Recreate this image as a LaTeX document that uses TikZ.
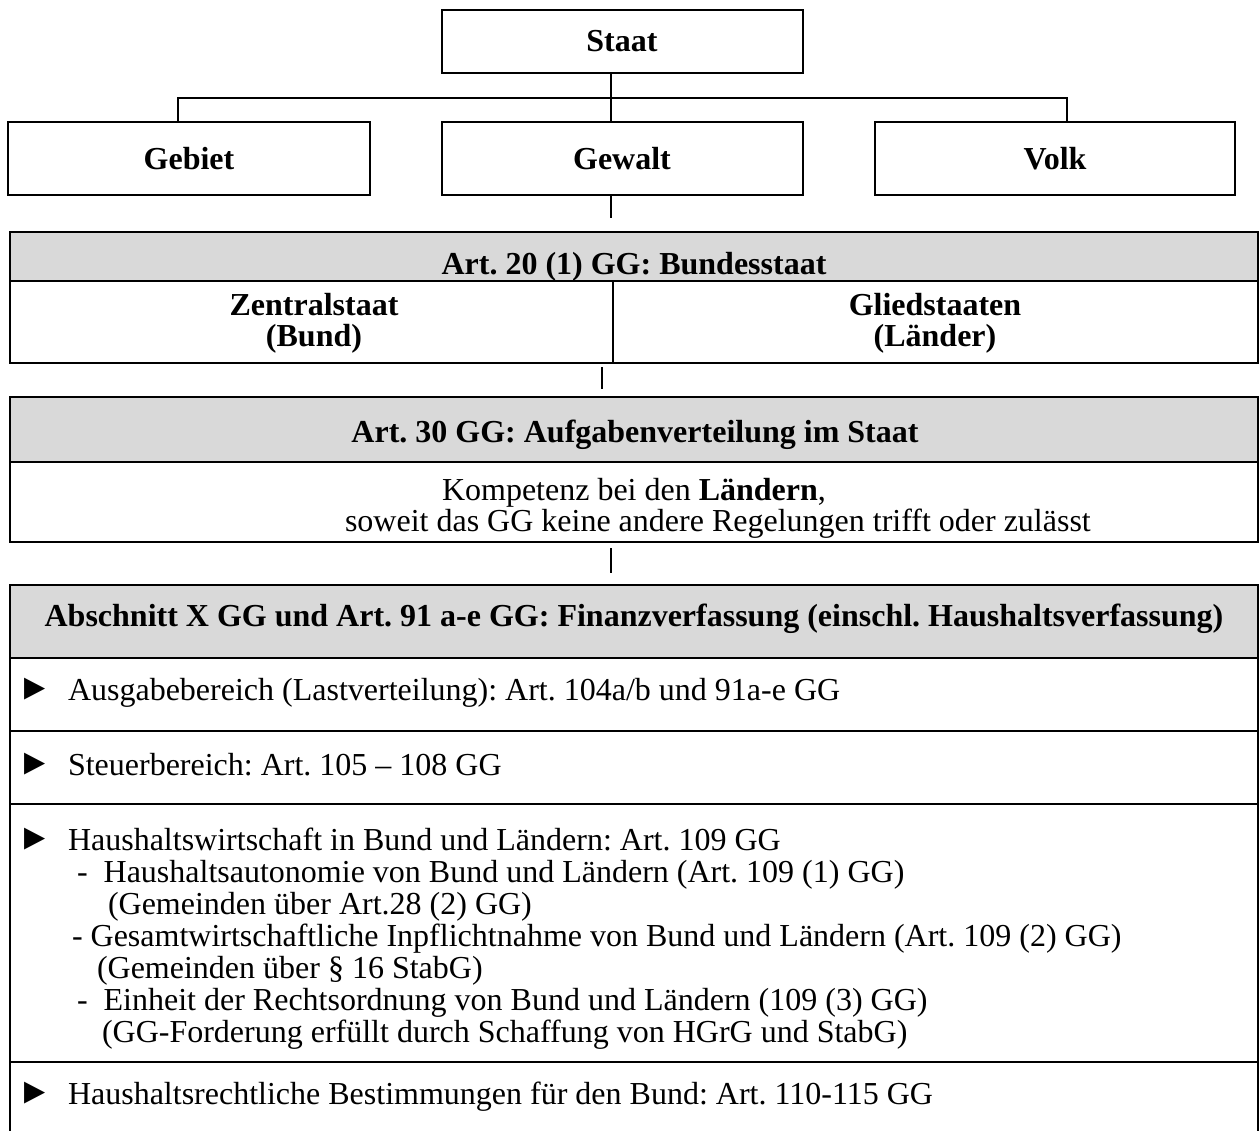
\documentclass[tikz,border=0pt]{standalone}
\usepackage{fontspec}
\usepackage{graphicx}
\setmainfont{Liberation Serif}
\newfontfamily\symfont{DejaVu Sans}
\definecolor{hdr}{HTML}{D9D9D9}
\frenchspacing
\tikzset{
  every node/.style={inner sep=0pt, outer sep=0pt},
  topbox/.style={draw, line width=2pt, font=\fontsize{32}{32}\selectfont\bfseries},
  framebox/.style={draw, line width=2.5pt, anchor=north west, minimum width=1248pt},
  headbox/.style={framebox, fill=hdr},
  conn/.style={line width=1.2pt},
  txt/.style={font=\fontsize{32}{32}\selectfont, anchor=base west},
  btxt/.style={font=\fontsize{32}{32}\selectfont\bfseries, anchor=base},
  bullet/.style={font=\symfont\fontsize{22}{22}\selectfont, anchor=base west},
}
\newcommand{\tri}{\scalebox{1.25}[2.0]{►}}
\begin{document}
\begin{tikzpicture}[x=1pt,y=-1pt]
\useasboundingbox (0,0) rectangle (1260,1131);
\clip (0,0) rectangle (1260,1131);

% top tree
\node[topbox, minimum width=361pt, minimum height=63pt] (staat) at (622,41.5) {Staat};
\node[topbox, minimum width=362pt, minimum height=73pt] (gebiet) at (189,158.5) {Gebiet};
\node[topbox, minimum width=361pt, minimum height=73pt] (gewalt) at (622,158.5) {Gewalt};
\node[topbox, minimum width=360pt, minimum height=73pt] (volk) at (1055,158.5) {Volk};

\coordinate (jc) at (611,98);
\coordinate (jl) at (178,98);
\coordinate (jr) at (1067,98);
\draw[conn] (jc |- staat.south) -- (jc |- gewalt.north);
\draw[conn] (jl |- gebiet.north) -- (jl) -- (jr) -- (jr |- volk.north);
\coordinate (e1) at (611,218);
\draw[conn] (e1 |- gewalt.south) -- (e1);

% Art. 20
\node[headbox, minimum height=49pt] (bundhead) at (10,232) {};
\node[framebox, minimum height=82pt] (bundbody) at (10,281) {};
\coordinate (split) at (613,300);
\draw[line width=2pt] (split |- bundbody.north) -- (split |- bundbody.south);
\node[btxt] (t20) at (634,275) {Art. 20 (1) GG: Bundesstaat};
\node[btxt] (zs1) at (314,316) {Zentralstaat};
\node[btxt] (zs2) at (314,346) {(Bund)};
\node[btxt] (gs1) at (935,316) {Gliedstaaten};
\node[btxt] (gs2) at (935,346) {(Länder)};

\coordinate (c2a) at (602,367);
\coordinate (c2b) at (602,389);
\draw[conn] (c2a) -- (c2b);

% Art. 30
\node[headbox, minimum height=65pt] (a30head) at (10,397) {};
\node[framebox, minimum height=80pt] (a30body) at (10,462) {};
\node[btxt] (t30) at (635,442) {Art. 30 GG: Aufgabenverteilung im Staat};
\node[txt] (k1) at (442,500) {Kompetenz bei den \textbf{Ländern},};
\node[txt] (k2) at (345,531) {soweit das GG keine andere Regelungen trifft oder zulässt};

\coordinate (c3a) at (611,548);
\coordinate (c3b) at (611,573);
\draw[conn] (c3a) -- (c3b);

% Finanzverfassung
\node[headbox, minimum height=73pt] (fhead) at (10,585) {};
\node[framebox, minimum height=73pt] (r1) at (10,658) {};
\node[framebox, minimum height=73pt] (r2) at (10,731) {};
\node[framebox, minimum height=258pt] (r3) at (10,804) {};
\node[framebox, minimum height=100pt] (r4) at (10,1062) {};
\node[btxt] (tf) at (634,626) {Abschnitt X GG und Art. 91 a-e GG: Finanzverfassung (einschl. Haushaltsverfassung)};

\node[bullet] (b1) at (24,700) {\tri};
\node[txt] (l1) at (68,700) {Ausgabebereich (Lastverteilung): Art. 104a/b und 91a-e GG};
\node[bullet] (b2) at (24,775) {\tri};
\node[txt] (l2) at (68,775) {Steuerbereich: Art. 105 – 108 GG};
\node[bullet] (b3) at (24,850) {\tri};
\node[txt] (l3) at (68,850) {Haushaltswirtschaft in Bund und Ländern: Art. 109 GG};
\node[txt] (l3a) at (77,882) {-~ Haushaltsautonomie von Bund und Ländern (Art. 109 (1) GG)};
\node[txt] (l3b) at (108,914) {(Gemeinden über Art.28 (2) GG)};
\node[txt] (l3c) at (72,946) {- Gesamtwirtschaftliche Inpflichtnahme von Bund und Ländern (Art. 109 (2) GG)};
\node[txt] (l3d) at (97,978) {(Gemeinden über § 16 StabG)};
\node[txt] (l3e) at (77,1010) {-~ Einheit der Rechtsordnung von Bund und Ländern (109 (3) GG)};
\node[txt] (l3f) at (102,1042) {(GG-Forderung erfüllt durch Schaffung von HGrG und StabG)};
\node[bullet] (b4) at (24,1104) {\tri};
\node[txt] (l4) at (68,1104) {Haushaltsrechtliche Bestimmungen für den Bund: Art. 110-115 GG};
\end{tikzpicture}
\end{document}
